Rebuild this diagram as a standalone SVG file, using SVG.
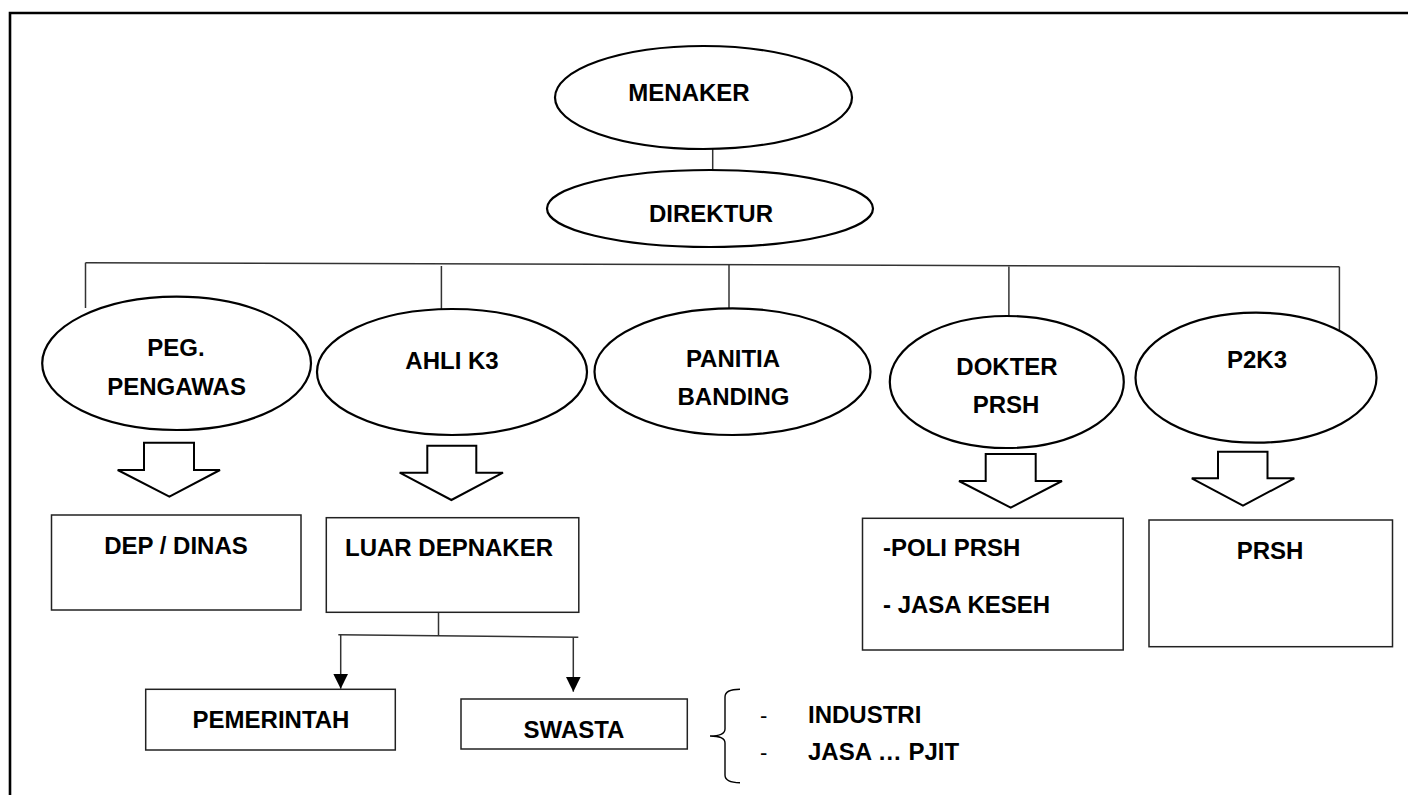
<svg xmlns="http://www.w3.org/2000/svg" width="1408" height="795" viewBox="0 0 1408 795">
<defs>
<style>
.ell{fill:#fff;stroke:#000;stroke-width:2.2}
.box{fill:#fff;stroke:#222;stroke-width:1.5}
.barrow{fill:#fff;stroke:#000;stroke-width:2}
.con{fill:none;stroke:#333;stroke-width:1.5}
.t{font-family:"Liberation Sans",Arial,sans-serif;font-weight:bold;font-size:24px;fill:#000}
.m{text-anchor:middle}
.d{font-family:"Liberation Sans",Arial,sans-serif;font-size:22px;fill:#000}
</style>
<marker id="ah" viewBox="0 0 10 10" refX="10" refY="5" markerWidth="15" markerHeight="15" markerUnits="userSpaceOnUse" orient="auto">
<path d="M0,0 L10,5 L0,10 Z" fill="#000"/>
</marker>
</defs>
<rect x="0" y="0" width="1408" height="795" fill="#fff"/>
<path d="M10,795 L10,13 L1408,13" fill="none" stroke="#000" stroke-width="2.6"/>

<g id="connectors">
<line class="con" x1="712.7" y1="149" x2="712.7" y2="172"/>
<line class="con" x1="85.5" y1="262.7" x2="1339.4" y2="266.7"/>
<line class="con" x1="85.5" y1="262.7" x2="85.5" y2="308"/>
<line class="con" x1="441.4" y1="266" x2="441.4" y2="310"/>
<line class="con" x1="729" y1="265" x2="729" y2="309"/>
<line class="con" x1="1008.9" y1="266.5" x2="1008.9" y2="316"/>
<line class="con" x1="1339.4" y1="266.7" x2="1339.4" y2="330"/>
<line class="con" x1="438.5" y1="612.3" x2="438.5" y2="635.5"/>
<line class="con" x1="338.3" y1="634.7" x2="578.3" y2="637.3"/>
<line class="con" x1="340.7" y1="634.7" x2="340.7" y2="688.7" marker-end="url(#ah)"/>
<line class="con" x1="573.3" y1="637.2" x2="573.3" y2="691.7" marker-end="url(#ah)"/>
<polygon class="barrow" points="144,442.7 194,442.7 194,470 220,470 169.4,496.7 117.7,470 144,470"/>
<polygon class="barrow" points="427.3,445.7 476.3,445.7 476.3,472.7 503,472.7 451.4,500 399.7,472.7 427.3,472.7"/>
<polygon class="barrow" points="985.7,454 1035.7,454 1035.7,481 1062,481 1010.7,507.7 959,481 985.7,481"/>
<polygon class="barrow" points="1218,451.7 1267.5,451.7 1267.5,478.3 1294.3,478.3 1243,505.7 1191.8,478.3 1218,478.3"/>
</g>

<g id="menaker">
<ellipse class="ell" cx="703.5" cy="97.5" rx="148.5" ry="51.5"/>
<text class="t m" x="689" y="101">MENAKER</text>
</g>
<g id="direktur">
<ellipse class="ell" cx="710" cy="208.5" rx="163" ry="38.5"/>
<text class="t m" x="711" y="222">DIREKTUR</text>
</g>
<g id="peg-pengawas">
<ellipse class="ell" cx="176.6" cy="363.3" rx="134.4" ry="66.7"/>
<text class="t m" x="176" y="356">PEG.</text>
<text class="t m" x="176.6" y="395">PENGAWAS</text>
</g>
<g id="ahli-k3">
<ellipse class="ell" cx="452" cy="372" rx="135" ry="63"/>
<text class="t m" x="452" y="369">AHLI K3</text>
</g>
<g id="panitia-banding">
<ellipse class="ell" cx="732.5" cy="371.7" rx="138" ry="63.3"/>
<text class="t m" x="733" y="366.7">PANITIA</text>
<text class="t m" x="733.5" y="405">BANDING</text>
</g>
<g id="dokter-prsh">
<ellipse class="ell" cx="1006.8" cy="382" rx="117" ry="66"/>
<text class="t m" x="1007" y="375">DOKTER</text>
<text class="t m" x="1006" y="413">PRSH</text>
</g>
<g id="p2k3">
<ellipse class="ell" cx="1256" cy="377.7" rx="120.5" ry="65"/>
<text class="t m" x="1257" y="368">P2K3</text>
</g>

<g id="dep-dinas">
<rect class="box" x="51.5" y="515" width="249.5" height="95"/>
<text class="t m" x="176" y="554">DEP / DINAS</text>
</g>
<g id="luar-depnaker">
<rect class="box" x="326.3" y="517.7" width="252.5" height="94.6"/>
<text class="t m" x="449" y="556">LUAR DEPNAKER</text>
</g>
<g id="poli-prsh">
<rect class="box" x="862.5" y="518.3" width="260.7" height="131.7"/>
<text class="t" x="883" y="555.7">-POLI PRSH</text>
<text class="t" x="883" y="612.7">- JASA KESEH</text>
</g>
<g id="prsh">
<rect class="box" x="1149" y="520" width="243.5" height="126.7"/>
<text class="t m" x="1270" y="559">PRSH</text>
</g>
<g id="pemerintah">
<rect class="box" x="145.7" y="689.3" width="249.6" height="60.7"/>
<text class="t m" x="271" y="728.3">PEMERINTAH</text>
</g>
<g id="swasta">
<rect class="box" x="461" y="699" width="226.3" height="50"/>
<text class="t m" x="574" y="738.3">SWASTA</text>
</g>
<g id="swasta-list">
<path d="M740,689.3 Q725,689.3 725,697 L725,729 Q725,736 710,736 Q725,736 725,743 L725,775 Q725,782.7 740,782.7" fill="none" stroke="#000" stroke-width="1.4"/>
<text class="d" x="760" y="722.7">-</text>
<text class="t" x="808" y="722.7">INDUSTRI</text>
<text class="d" x="760" y="760">-</text>
<text class="t" x="808" y="760">JASA … PJIT</text>
</g>
</svg>
